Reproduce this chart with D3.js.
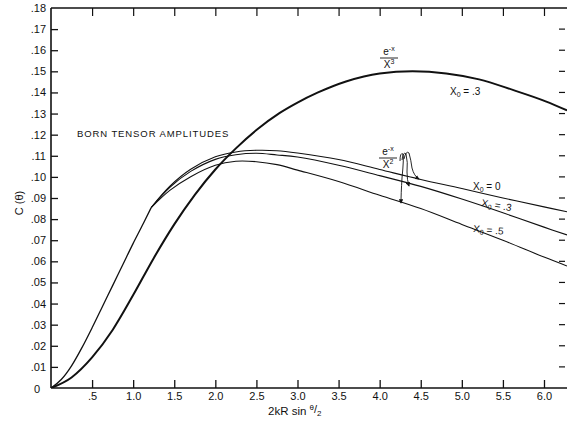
<!DOCTYPE html>
<html><head><meta charset="utf-8">
<script src="https://cdn.jsdelivr.net/npm/d3@7"></script>
<style>
html,body{margin:0;padding:0;background:#fff;}
svg{display:block;font-family:"Liberation Sans","DejaVu Sans",sans-serif;}
</style></head>
<body><svg id="c" width="567" height="425"></svg>
<script>
// ---- data ----
const xTickValues = [0.5,1.0,1.5,2.0,2.5,3.0,3.5,4.0,4.5,5.0,5.5,6.0];
const xTickLabels = [".5","1.0","1.5","2.0","2.5","3.0","3.5","4.0","4.5","5.0","5.5","6.0"];
const yTickValues = [0,0.01,0.02,0.03,0.04,0.05,0.06,0.07,0.08,0.09,0.10,0.11,0.12,0.13,0.14,0.15,0.16,0.17,0.18];
const yTickLabels = ["0",".01",".02",".03",".04",".05",".06",".07",".08",".09",".10",".11",".12",".13",".14",".15",".16",".17",".18"];

// e^-x / x^3, x0 = .3  (heavy curve)
const cubicX = [0,0.25,0.5,0.75,1.0,1.25,1.5,1.75,2.0,2.25,2.5,2.78,3.0,3.25,3.59,4.0,4.4,4.81,5.21,5.62,6.02,6.28];
const cubicY = [0,0.005,0.0145,0.0275,0.0440,0.0615,0.0775,0.0915,0.1035,0.1135,0.1222,0.1302,0.1352,0.1400,0.1452,0.1490,0.1500,0.1490,0.1462,0.1412,0.1358,0.1315];

// e^-x / x^2 curves: common rising branch up to the kink, then x0 = 0, .3, .5
const riseX = [0,0.125,0.25,0.375,0.5,0.625,0.75,0.875,1.0,1.125,1.22];
const riseY = [0,0.0040,0.0105,0.0190,0.0285,0.0385,0.0485,0.0585,0.0685,0.0780,0.0855];
const tailX = [1.22,1.45,1.7,2.0,2.25,2.5,2.75,3.0,3.5,4.0,4.5,5.0,5.5,6.0,6.28];
const tailY0  = [0.0855,0.0957,0.1036,0.1095,0.1118,0.1126,0.1124,0.1113,0.1082,0.1035,0.0988,0.0945,0.0900,0.0858,0.0835];
const tailY03 = [0.0855,0.0952,0.1026,0.1083,0.1105,0.1112,0.1104,0.1094,0.1055,0.1006,0.0955,0.0895,0.0830,0.0762,0.0725];
const tailY05 = [0.0855,0.0937,0.1001,0.1055,0.1074,0.1072,0.1058,0.1032,0.0978,0.0913,0.0850,0.0775,0.0700,0.0620,0.0578];

// ---- layout ----
const svg = d3.select("#c");
const x = d3.scaleLinear().domain([0, 6.28]).range([51, 567]);
const y = d3.scaleLinear().domain([0, 0.18]).range([388, 8]);
const ink = "#111";

// frame: left, top, bottom
const g = svg.append("g");
g.append("line").attr("x1",x(0)).attr("x2",x(0)).attr("y1",y(0)).attr("y2",y(0.18)).attr("stroke",ink).attr("stroke-width",1.6);
g.append("line").attr("x1",x(0)).attr("x2",567).attr("y1",y(0.18)).attr("y2",y(0.18)).attr("stroke",ink).attr("stroke-width",1.3);
g.append("line").attr("x1",x(0)).attr("x2",567).attr("y1",y(0)).attr("y2",y(0)).attr("stroke",ink).attr("stroke-width",1.3);

// bottom axis (ticks inward)
const xAxis = d3.axisBottom(x).tickValues(xTickValues).tickSize(-8).tickPadding(4)
  .tickFormat((d,i)=>xTickLabels[i]);
const gx = svg.append("g").attr("transform",`translate(0,${y(0)})`).call(xAxis);
gx.select(".domain").remove();
gx.selectAll(".tick line").attr("stroke",ink).attr("stroke-width",1.3);
gx.selectAll(".tick text").attr("fill",ink).attr("font-size",11);

// top ticks
const xTop = d3.axisTop(x).tickValues(xTickValues).tickSize(-8).tickFormat("");
const gt = svg.append("g").attr("transform",`translate(0,${y(0.18)})`).call(xTop);
gt.select(".domain").remove();
gt.selectAll(".tick line").attr("stroke",ink).attr("stroke-width",1.2);

// left axis (ticks inward)
const yAxis = d3.axisLeft(y).tickValues(yTickValues).tickSize(0).tickPadding(5)
  .tickFormat((d,i)=>yTickLabels[i]);
const gy = svg.append("g").attr("transform",`translate(${x(0)},0)`).call(yAxis);
gy.select(".domain").remove();
gy.selectAll(".tick text").attr("fill",ink).attr("font-size",11);
gy.selectAll(".tick").filter(d=>d>0 && d<0.18).append("line")
  .attr("x1",0).attr("x2",7).attr("stroke",ink).attr("stroke-width",1.3);
gy.selectAll(".tick").filter(d=>d===0).select("text").attr("dx",-6).attr("dy","0.45em");

// right side dashes
const gr = svg.append("g");
gr.selectAll("line").data(yTickValues.filter(d=>d>0 && d<0.18)).join("line")
  .attr("x1",559).attr("x2",565).attr("y1",d=>y(d)).attr("y2",d=>y(d))
  .attr("stroke",ink).attr("stroke-width",1.2);

// ---- curves ----
const lineM = d3.line().x(d=>x(d[0])).y(d=>y(d[1])).curve(d3.curveMonotoneX);
const lineC = d3.line().x(d=>x(d[0])).y(d=>y(d[1])).curve(d3.curveCatmullRom.alpha(0.5));
const cubic = cubicX.map((v,i)=>[v,cubicY[i]]);
const rise = riseX.map((v,i)=>[v,riseY[i]]);
svg.append("clipPath").attr("id","pc").append("rect")
  .attr("x",x(0)).attr("y",y(0.18)).attr("width",567-x(0)).attr("height",y(0)-y(0.18));
const gc = svg.append("g").attr("clip-path","url(#pc)").attr("fill","none").attr("stroke",ink);
gc.append("path").attr("d",lineM(cubic)).attr("stroke-width",2);
gc.append("path").attr("d",lineM(rise)).attr("stroke-width",1.3);
[tailY0,tailY03,tailY05].forEach(t=>{
  gc.append("path").attr("d",lineC(tailX.map((v,i)=>[v,t[i]]))).attr("stroke-width",1.1);
});

// ---- annotations ----
const fs = 10;
function xo(sel, rest){
  sel.append("tspan").text("X");
  sel.append("tspan").attr("font-size",7).attr("dy",2).text("0");
  sel.append("tspan").attr("dy",-2).text(rest);
}
xo(svg.append("text").attr("x",450).attr("y",95).attr("font-size",fs).attr("fill",ink), " = .3");
xo(svg.append("text").attr("x",473).attr("y",190).attr("font-size",fs).attr("fill",ink), " = 0");
xo(svg.append("text").attr("x",481).attr("y",206).attr("font-size",fs).attr("fill",ink)
   .attr("transform","rotate(10,481,206)"), " = .3");
xo(svg.append("text").attr("x",473).attr("y",232).attr("font-size",fs).attr("fill",ink)
   .attr("transform","rotate(5,473,232)"), " = .5");

function frac(cx, top, pow){
  const t1 = svg.append("text").attr("x",cx).attr("y",top).attr("font-size",10).attr("fill",ink).attr("text-anchor","middle");
  t1.append("tspan").text("e");
  t1.append("tspan").attr("font-size",7).attr("dy",-4).text("-x");
  svg.append("line").attr("x1",cx-9).attr("x2",cx+9).attr("y1",top+3).attr("y2",top+3).attr("stroke",ink).attr("stroke-width",0.9);
  const t2 = svg.append("text").attr("x",cx).attr("y",top+13).attr("font-size",10).attr("fill",ink).attr("text-anchor","middle");
  t2.append("tspan").text("X");
  t2.append("tspan").attr("font-size",7).attr("dy",-4).text(pow);
}
frac(389, 55, "3");
frac(388, 155, "2");

// hooked arrows from the e^-x/x^2 label to the three curves
svg.append("defs").append("marker").attr("id","ah").attr("viewBox","0 0 6 6").attr("refX",5).attr("refY",3)
  .attr("markerWidth",5).attr("markerHeight",5).attr("orient","auto")
  .append("path").attr("d","M0,0L6,3L0,6Z").attr("fill",ink);
const arrows = [
  "M400,161 Q400,152 403,154 Q404,158 402,178 Q401,194 401,203",
  "M402,160 Q403,151 406,154 Q408,162 407,172 Q407,180 409,186",
  "M404,159 Q406,150 409,153 Q411,160 412,168 Q414,176 419,179"
];
svg.append("g").selectAll("path").data(arrows).join("path").attr("d",d=>d)
  .attr("fill","none").attr("stroke",ink).attr("stroke-width",0.9).attr("marker-end","url(#ah)");

svg.append("text").attr("x",77).attr("y",137).attr("font-size",9.5).attr("letter-spacing",0.9)
  .attr("fill",ink).text("BORN TENSOR AMPLITUDES");

// axis titles
const xt = svg.append("text").attr("x",268).attr("y",415).attr("font-size",11.5).attr("fill",ink);
xt.append("tspan").text("2kR sin ");
xt.append("tspan").attr("font-size",8).attr("dy",-5).text("θ");
xt.append("tspan").attr("font-size",11).attr("dy",3).text("/");
xt.append("tspan").attr("font-size",8).attr("dy",3).text("2");

svg.append("text").attr("transform","translate(23,203) rotate(-90)").attr("text-anchor","middle")
  .attr("font-size",11).attr("fill",ink).text("C (θ)");
</script></body></html>
